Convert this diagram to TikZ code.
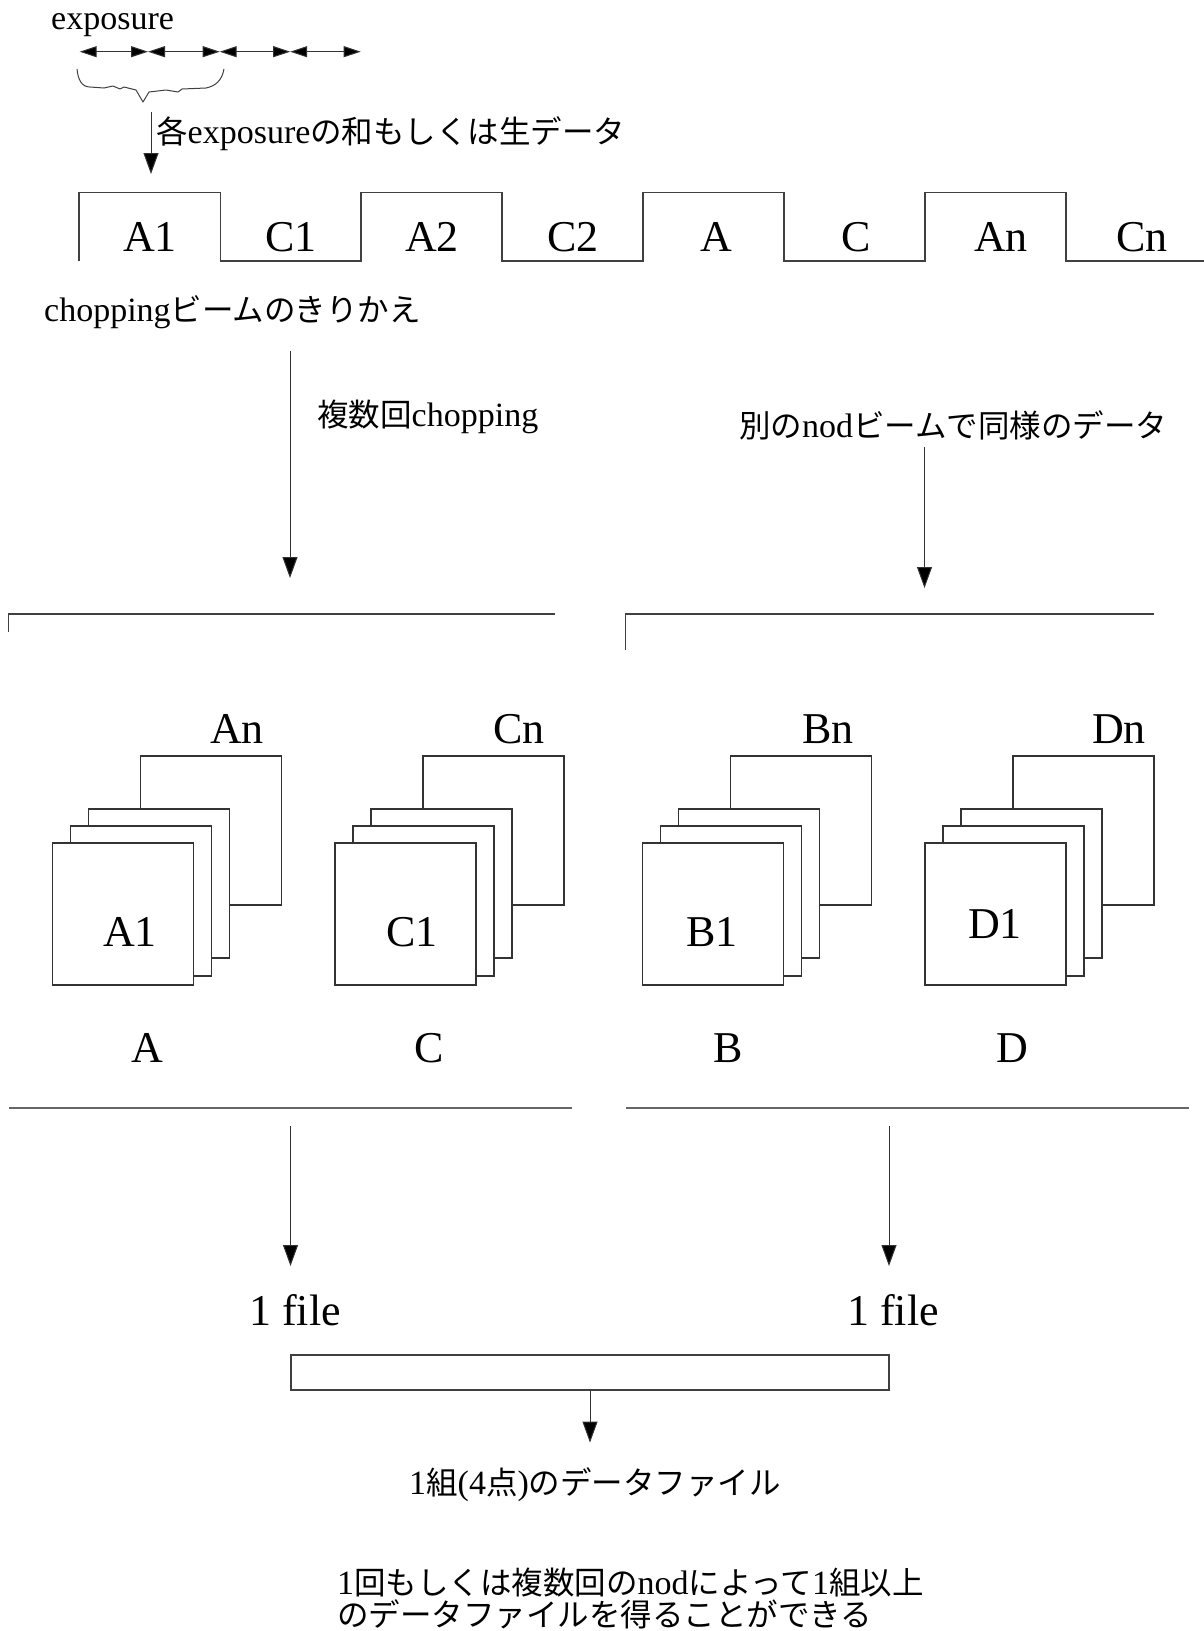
\documentclass[tikz,border=0pt]{standalone}
\usepackage{fontspec}
\setmainfont{Liberation Serif}
\newfontfamily\jp{Noto Sans CJK JP}
\newcommand\J[1]{{\fontsize{31.5}{36}\jp #1}}
\usetikzlibrary{arrows.meta}
\begin{document}
\begin{tikzpicture}[x=1pt,y=-1pt,
  ln/.style={draw=black!75,line width=1.2pt},
  ln2/.style={draw=black!60,line width=1.8pt},
  arr/.style={draw=black!80,line width=1pt,-{Triangle[length=21pt,width=15pt,fill=black]}},
  dbl/.style={draw=black!80,line width=1pt,{Triangle[length=17pt,width=11pt,fill=black]}-{Triangle[length=17pt,width=11pt,fill=black]}},
  txt/.style={inner sep=0pt,font=\fontsize{34}{36}\selectfont},
  big/.style={inner sep=0pt,font=\fontsize{44}{50}\selectfont},
  card/.style={draw=black!80,line width=1.2pt,fill=white}]
\useasboundingbox (0,0) rectangle (1204,1631);

% exposure row
\node[txt,anchor=base west] (expo) at (51,29) {exposure};
\coordinate (e0) at (79.6,51.7);
\coordinate (e1) at (148,51.7);
\coordinate (e2) at (219.7,51.7);
\coordinate (e3) at (290.2,51.7);
\coordinate (e4) at (360.7,51.7);
\draw[dbl] (e0) -- (e1);
\draw[dbl] (e1) -- (e2);
\draw[dbl] (e2) -- (e3);
\draw[dbl] (e3) -- (e4);
% brace (hand drawn)
\draw[draw=black!75,line width=1pt,line join=round]
  (77,69) .. controls (78,80) and (82,87) .. (90,87)
  -- (104,88) -- (113,86) -- (120,89) -- (124,87) -- (136,90) -- (143,102)
  -- (149,92) -- (166,90) -- (178,92) -- (182,89) -- (206,88)
  .. controls (216,86) and (222,80) .. (224,69);
\coordinate (b0) at (151,112);
\coordinate (b1) at (151,174);
\draw[arr] (b0) -- (b1);
\node[txt,anchor=base west] (sumtxt) at (156,143) {\J{各}exposure\J{の和もしくは生データ}};

% chopping wave
\draw[ln] (79,261) -- (79,192.5) -- (220.5,192.5) -- (220.5,261) -- (361,261)
  -- (361,192.5) -- (502,192.5) -- (502,261) -- (643,261) -- (643,192.5)
  -- (784,192.5) -- (784,261) -- (925,261) -- (925,192.5) -- (1066,192.5)
  -- (1066,261) -- (1204,261);
\foreach \cx/\lab/\nm in {150/A1/w1,291/C1/w2,432/A2/w3,573/C2/w4,716/A/w5,856/C/w6,1001/An/w7,1142/Cn/w8}
  \node[big,anchor=base] (\nm) at (\cx,251) {\lab};
\node[txt,anchor=base west] (choptxt) at (44,321) {chopping\J{ビームのきりかえ}};

% arrows to groups
\coordinate (c1s) at (290,351);
\coordinate (c1e) at (290,578);
\draw[arr] (c1s) -- (c1e);
\node[txt,anchor=base west] (multi) at (317,426) {\J{複数回}chopping};
\node[txt,anchor=base west] (other) at (739,437) {\J{別の}nod\J{ビームで同様のデータ}};
\coordinate (c2s) at (924.5,447);
\coordinate (c2e) at (924.5,588);
\draw[arr] (c2s) -- (c2e);

% brackets
\draw[ln] (8.5,632) -- (8.5,614) -- (555,614);
\draw[ln] (625.5,650) -- (625.5,614) -- (1154,614);

% stacks
\foreach \x/\n/\fl/\fx/\fy/\nl/\nx/\gl/\gx in
  {52.5/a/A1/130/946/An/237/A/147.5,
   335/c/C1/412/946/Cn/519/C/429,
   642.5/b/B1/712/946/Bn/828/B/728,
   925/d/D1/995/938/Dn/1119/D/1012}{
  \draw[card] (\x+88,756) rectangle (\x+229,905);
  \draw[card] (\x+36,809) rectangle (\x+177,958);
  \draw[card] (\x+18,826) rectangle (\x+159,976);
  \draw[card] (\x,843) rectangle (\x+141,985);
  \node[big,anchor=base] (\n-first) at (\fx,\fy) {\fl};
  \node[big,anchor=base] (\n-last) at (\nx,743) {\nl};
  \node[big,anchor=base] (\n-grp) at (\gx,1062) {\gl};
}

% bottom lines
\draw[ln2] (9,1108) -- (572,1108);
\draw[ln2] (626,1108) -- (1189,1108);
\coordinate (d1s) at (290.5,1126);
\coordinate (d1e) at (290.5,1266);
\coordinate (d2s) at (889,1126);
\coordinate (d2e) at (889,1266);
\draw[arr] (d1s) -- (d1e);
\draw[arr] (d2s) -- (d2e);
\node[big,anchor=base west] (f1) at (249,1325) {1 file};
\node[big,anchor=base west] (f2) at (847,1325) {1 file};

% merge box
\node[ln,inner sep=0pt,minimum width=598pt,minimum height=35pt] (merge) at (590,1372.5) {};
\coordinate (m1) at ([yshift=-52pt]merge.south);
\draw[arr] (merge.south) -- (m1);
\node[txt,anchor=base] (set) at (595,1494) {1\J{組}(4\J{点})\J{のデータファイル}};

\node[txt,anchor=base west] (bot1) at (337,1594) {1\J{回もしくは複数回の}nod\J{によって}1\J{組以上}};
\node[txt,anchor=base west] (bot2) at (337,1626) {\J{のデータファイルを得ることができる}};
\end{tikzpicture}
\end{document}
